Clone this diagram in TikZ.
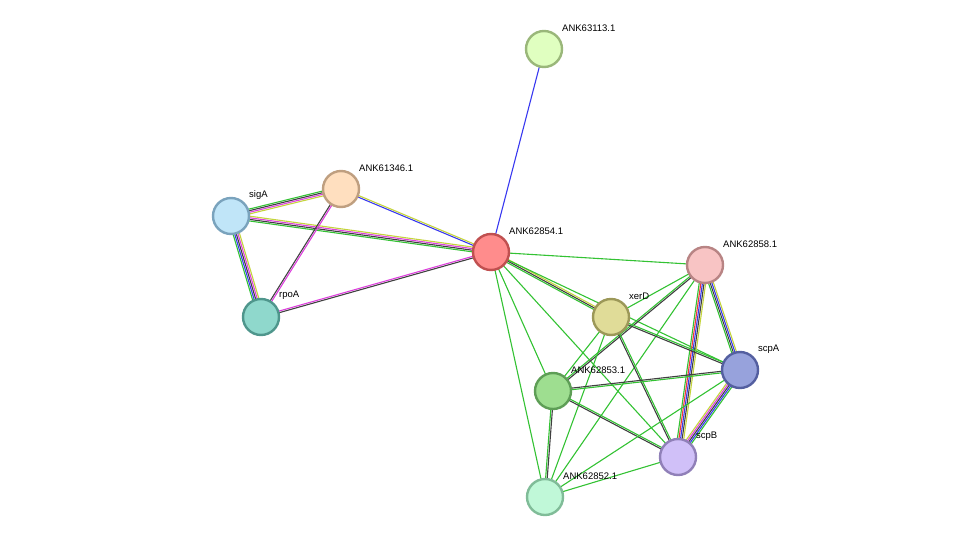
\documentclass[tikz,border=0pt]{standalone}
\usepackage{fontspec}
\setmainfont{Liberation Sans}
\usetikzlibrary{calc,backgrounds}
\definecolor{egreen}{HTML}{33C233}
\definecolor{eblack}{HTML}{404040}
\definecolor{emag}{HTML}{DD40DD}
\definecolor{eyel}{HTML}{C4D43C}
\definecolor{eblue}{HTML}{3838F0}
\definecolor{ered}{HTML}{F03838}
% node fill / border pairs
\definecolor{f63113}{HTML}{E0FFC0}\definecolor{d63113}{HTML}{9AB77A}
\definecolor{f61346}{HTML}{FFDFBF}\definecolor{d61346}{HTML}{BF9F80}
\definecolor{fsigA}{HTML}{C0E5F8}\definecolor{dsigA}{HTML}{7AA3BD}
\definecolor{frpoA}{HTML}{8FD8CC}\definecolor{drpoA}{HTML}{4F968C}
\definecolor{f62854}{HTML}{FF8C8C}\definecolor{d62854}{HTML}{C05050}
\definecolor{f62858}{HTML}{F8C4C4}\definecolor{d62858}{HTML}{B88484}
\definecolor{fxerD}{HTML}{E0DC98}\definecolor{dxerD}{HTML}{9C9858}
\definecolor{fscpA}{HTML}{97A2DC}\definecolor{dscpA}{HTML}{545FA0}
\definecolor{f62853}{HTML}{9EDE90}\definecolor{d62853}{HTML}{5E9E56}
\definecolor{fscpB}{HTML}{D0C0F8}\definecolor{dscpB}{HTML}{9080B8}
\definecolor{f62852}{HTML}{C0F8D8}\definecolor{d62852}{HTML}{80BC98}
\tikzset{
  prot/.style={circle, minimum size=36pt, inner sep=0pt, line width=2.4pt, fill=f#1, draw=d#1},
  lbl/.style={anchor=west, font=\fontsize{9.5}{11}\selectfont, inner sep=0pt},
}
% parallel edge lines: from, to, count, colours
\newcommand\link[4]{%
  \foreach \c [count=\i] in {#4} {
    \pgfmathsetmacro\o{(\i-(#3+1)/2)*1.6}
    \draw[\c, line width=1.1pt] ($(#1)!\o pt!90:(#2)$) -- ($(#2)!\o pt!-90:(#1)$);
  }%
}
\begin{document}
\begin{tikzpicture}[x=1pt,y=-1pt]
  \useasboundingbox (0,0) rectangle (976,543);

  %proteins
  \node[prot=63113] (n63113) at (544,49) {};
  \node[prot=61346] (n61346) at (341,189) {};
  \node[prot=sigA] (sigA) at (231,216) {};
  \node[prot=rpoA] (rpoA) at (261,317) {};
  \node[prot=62854] (n62854) at (491,252) {};
  \node[prot=62858] (n62858) at (705,265) {};
  \node[prot=xerD] (xerD) at (611,317) {};
  \node[prot=scpA] (scpA) at (740,370) {};
  \node[prot=62853] (n62853) at (553,391) {};
  \node[prot=scpB] (scpB) at (678,457) {};
  \node[prot=62852] (n62852) at (545,497) {};

  %labels
  \node[lbl] (l63113) at (562,28) {ANK63113.1};
  \node[lbl] (l61346) at (359,168) {ANK61346.1};
  \node[lbl] (lsigA) at (249,195) {sigA};
  \node[lbl] (lrpoA) at (279,295) {rpoA};
  \node[lbl] (l62854) at (509,231) {ANK62854.1};
  \node[lbl] (l62858) at (723,244) {ANK62858.1};
  \node[lbl] (lxerD) at (629,296) {xerD};
  \node[lbl] (lscpA) at (758,349) {scpA};
  \node[lbl] (l62853) at (571,370) {ANK62853.1};
  \node[lbl] (lscpB) at (696,436) {scpB};
  \node[lbl] (l62852) at (563,476) {ANK62852.1};

  %edges
  \begin{scope}[on background layer]
    \link{sigA}{n61346}{4}{eyel,emag,eblack,egreen}
    \link{sigA}{n62854}{4}{egreen,eblack,emag,eyel}
    \link{sigA}{rpoA}{5}{egreen,eblue,eblack,emag,eyel}
    \link{n61346}{n62854}{2}{eblue,eyel}
    \link{n61346}{rpoA}{2}{eblack,emag}
    \link{rpoA}{n62854}{2}{eblack,emag}
    \link{n63113}{n62854}{1}{eblue}
    \link{n62854}{n62858}{1}{egreen}
    \link{n62854}{xerD}{3}{egreen,eblack,eyel}
    \link{n62854}{scpA}{1}{egreen}
    \link{n62854}{n62853}{1}{egreen}
    \link{n62854}{scpB}{1}{egreen}
    \link{n62854}{n62852}{1}{egreen}
    \link{n62858}{xerD}{1}{egreen}
    \link{n62858}{n62853}{2}{egreen,eblack}
    \link{n62858}{n62852}{1}{egreen}
    \link{n62858}{scpB}{5}{egreen,ered,eblue,eblack,eyel}
    \link{n62858}{scpA}{4}{egreen,eblack,eblue,eyel}
    \link{xerD}{n62853}{1}{egreen}
    \link{xerD}{n62852}{1}{egreen}
    \link{xerD}{scpB}{2}{eblack,egreen}
    \link{xerD}{scpA}{2}{eblack,egreen}
    \link{n62853}{scpA}{2}{egreen,eblack}
    \link{n62853}{scpB}{2}{eblack,egreen}
    \link{n62853}{n62852}{2}{egreen,eblack}
    \link{scpA}{scpB}{5}{eyel,emag,eblack,eblue,egreen}
    \link{scpA}{n62852}{1}{egreen}
    \link{scpB}{n62852}{1}{egreen}
  \end{scope}
\end{tikzpicture}
\end{document}
